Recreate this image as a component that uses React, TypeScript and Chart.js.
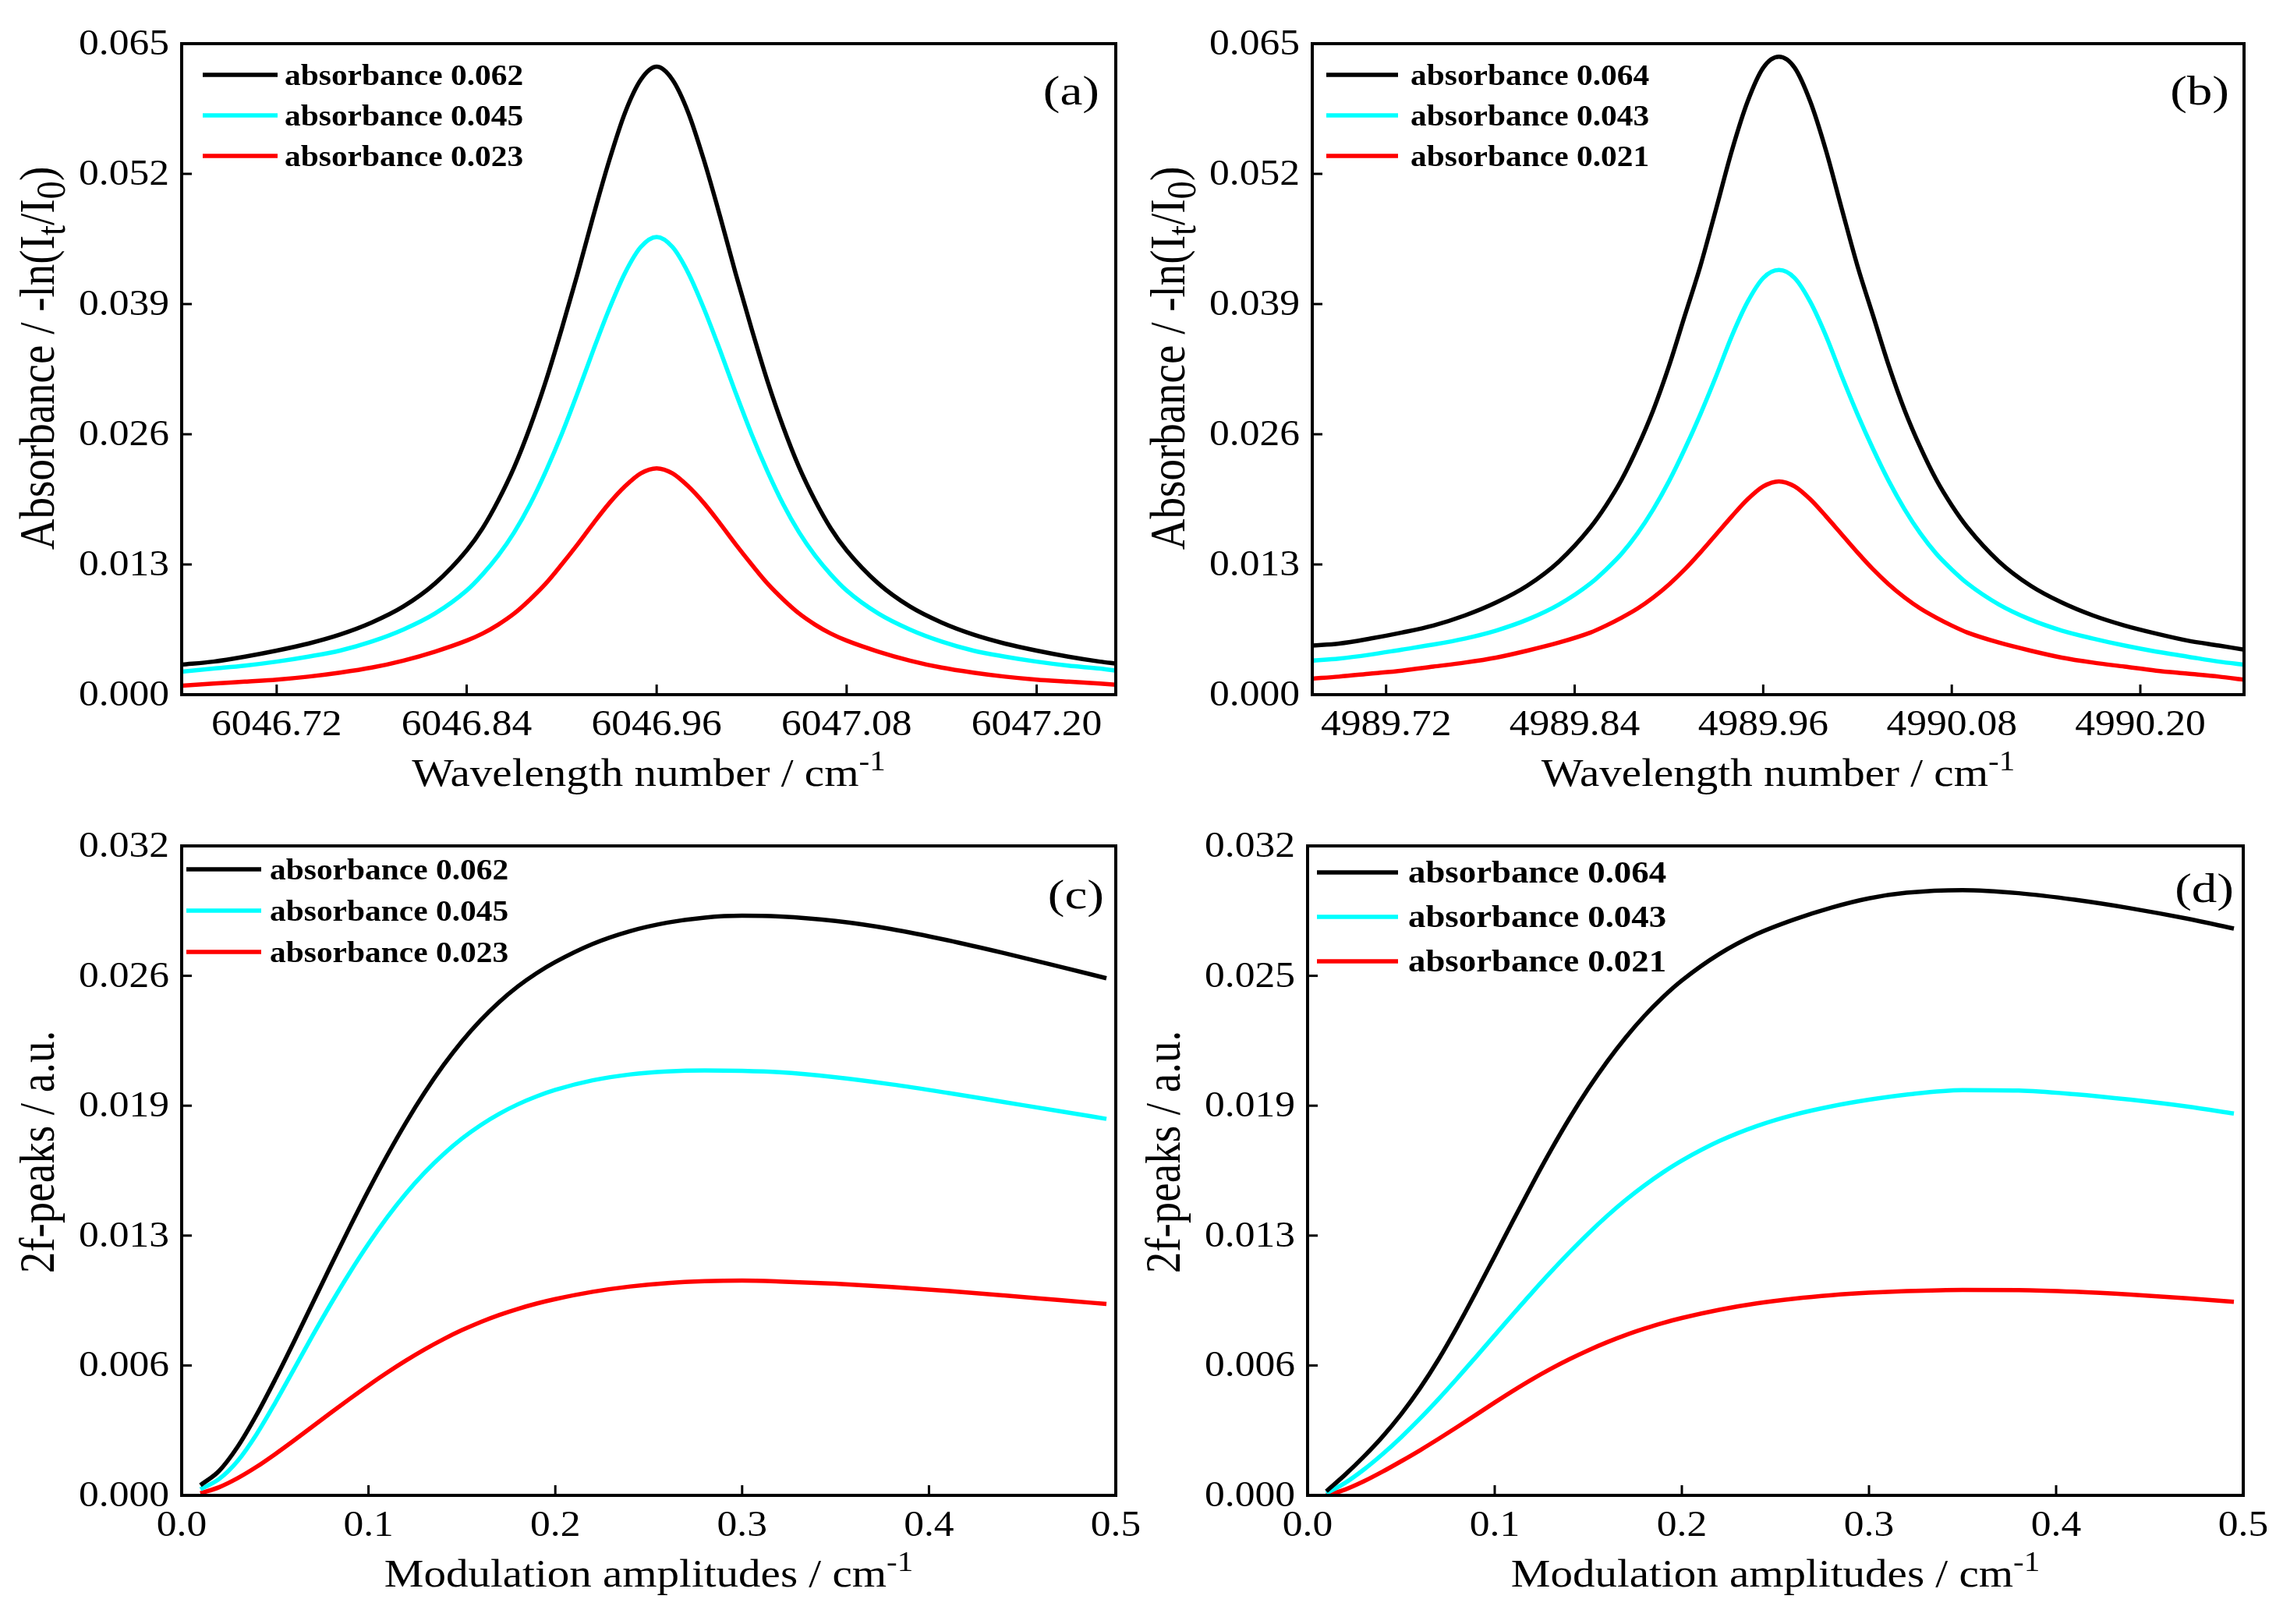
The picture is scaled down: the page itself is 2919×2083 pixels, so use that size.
import React, { useEffect, useRef } from "react";
import { Chart, registerables } from "chart.js";

Chart.register(...registerables);

const FONT = '"Liberation Serif", "Times New Roman", serif';
const COLORS = ["#000000", "#00FFFF", "#FF0000"];

// ---------- Panel (a) ----------
const A_X = [6046.66, 6046.68, 6046.70, 6046.72, 6046.74, 6046.76, 6046.78, 6046.80, 6046.82, 6046.84, 6046.85, 6046.86, 6046.87, 6046.88, 6046.89, 6046.90, 6046.91, 6046.92, 6046.93, 6046.94, 6046.95, 6046.96,
  6046.97, 6046.98, 6046.99, 6047.00, 6047.01, 6047.02, 6047.03, 6047.04, 6047.05, 6047.06, 6047.07, 6047.08, 6047.10, 6047.12, 6047.14, 6047.16, 6047.18, 6047.20, 6047.22, 6047.24, 6047.25];
const A_BLACK = [0.0030, 0.0033, 0.0038, 0.0044, 0.0051, 0.0060, 0.0072, 0.0088, 0.0111, 0.0144, 0.0166, 0.0194, 0.0227, 0.0267, 0.0313, 0.0365, 0.0420, 0.0478, 0.0533, 0.0581, 0.0614, 0.0627,
  0.0614, 0.0581, 0.0533, 0.0478, 0.0420, 0.0365, 0.0313, 0.0267, 0.0227, 0.0194, 0.0166, 0.0144, 0.0111, 0.0088, 0.0072, 0.0060, 0.0051, 0.0044, 0.0038, 0.0033, 0.0031];
const A_CYAN = [0.0023, 0.0026, 0.0029, 0.0033, 0.0038, 0.0044, 0.0053, 0.0065, 0.0081, 0.0104, 0.0120, 0.0139, 0.0162, 0.0190, 0.0223, 0.0260, 0.0301, 0.0344, 0.0385, 0.0421, 0.0447, 0.0457,
  0.0447, 0.0421, 0.0385, 0.0344, 0.0301, 0.0260, 0.0223, 0.0190, 0.0162, 0.0139, 0.0120, 0.0104, 0.0081, 0.0065, 0.0053, 0.0044, 0.0038, 0.0033, 0.0029, 0.0026, 0.0024];
const A_RED = [0.0009, 0.0011, 0.0013, 0.0015, 0.0018, 0.0022, 0.0027, 0.0034, 0.0043, 0.0054, 0.0061, 0.0070, 0.0081, 0.0095, 0.0111, 0.0130, 0.0150, 0.0171, 0.0191, 0.0208, 0.0221, 0.0226,
  0.0221, 0.0208, 0.0191, 0.0171, 0.0150, 0.0130, 0.0111, 0.0095, 0.0081, 0.0070, 0.0061, 0.0054, 0.0043, 0.0034, 0.0027, 0.0022, 0.0018, 0.0015, 0.0013, 0.0011, 0.0010];
const A_LEGEND = ["absorbance 0.062", "absorbance 0.045", "absorbance 0.023"];
const A_X_TICKS = [6046.72, 6046.84, 6046.96, 6047.08, 6047.2];
const A_X_LABELS = ["6046.72", "6046.84", "6046.96", "6047.08", "6047.20"];

// ---------- Panel (b) ----------
const B_X = [4989.673, 4989.69, 4989.71, 4989.73, 4989.75, 4989.77, 4989.79, 4989.81, 4989.83, 4989.85, 4989.86, 4989.87, 4989.88, 4989.89, 4989.90, 4989.91, 4989.92, 4989.93, 4989.94, 4989.95, 4989.96, 4989.97,
  4989.98, 4989.99, 4990.00, 4990.01, 4990.02, 4990.03, 4990.04, 4990.05, 4990.06, 4990.07, 4990.08, 4990.09, 4990.11, 4990.13, 4990.15, 4990.17, 4990.19, 4990.21, 4990.23, 4990.25, 4990.266];
const B_BLACK = [0.0049, 0.0051, 0.0056, 0.0062, 0.0069, 0.0079, 0.0092, 0.0109, 0.0133, 0.0167, 0.0189, 0.0215, 0.0247, 0.0284, 0.0328, 0.0378, 0.0428, 0.0485, 0.0543, 0.0592, 0.0626, 0.0637,
  0.0626, 0.0592, 0.0543, 0.0485, 0.0428, 0.0378, 0.0328, 0.0284, 0.0247, 0.0215, 0.0189, 0.0167, 0.0133, 0.0109, 0.0092, 0.0079, 0.0069, 0.0061, 0.0054, 0.0049, 0.0045];
const B_CYAN = [0.0034, 0.0036, 0.0040, 0.0045, 0.0050, 0.0056, 0.0064, 0.0075, 0.0090, 0.0111, 0.0125, 0.0141, 0.0161, 0.0185, 0.0213, 0.0245, 0.0280, 0.0318, 0.0358, 0.0392, 0.0416, 0.0424,
  0.0416, 0.0392, 0.0358, 0.0318, 0.0280, 0.0245, 0.0213, 0.0185, 0.0161, 0.0141, 0.0125, 0.0111, 0.0090, 0.0075, 0.0064, 0.0056, 0.0049, 0.0043, 0.0038, 0.0033, 0.0030];
const B_RED = [0.0016, 0.0018, 0.0021, 0.0024, 0.0028, 0.0032, 0.0037, 0.0044, 0.0052, 0.0062, 0.0069, 0.0077, 0.0086, 0.0097, 0.0110, 0.0125, 0.0142, 0.0160, 0.0178, 0.0195, 0.0208, 0.0213,
  0.0208, 0.0195, 0.0178, 0.0160, 0.0142, 0.0125, 0.0110, 0.0097, 0.0086, 0.0077, 0.0069, 0.0062, 0.0052, 0.0044, 0.0037, 0.0032, 0.0028, 0.0024, 0.0021, 0.0018, 0.0015];
const B_LEGEND = ["absorbance 0.064", "absorbance 0.043", "absorbance 0.021"];
const B_X_TICKS = [4989.72, 4989.84, 4989.96, 4990.08, 4990.2];
const B_X_LABELS = ["4989.72", "4989.84", "4989.96", "4990.08", "4990.20"];

const AB_Y_TICKS = [0, 0.013, 0.026, 0.039, 0.052, 0.065];
const AB_Y_LABELS = ["0.000", "0.013", "0.026", "0.039", "0.052", "0.065"];

// ---------- Panels (c) and (d) ----------
const CD_X = [0.01, 0.02, 0.03, 0.04, 0.05, 0.06, 0.07, 0.08, 0.09, 0.10, 0.11, 0.12, 0.13, 0.14, 0.15, 0.16, 0.17, 0.18, 0.19, 0.20,
  0.22, 0.24, 0.26, 0.28, 0.30, 0.32, 0.35, 0.38, 0.41, 0.44, 0.47, 0.495];
const C_BLACK = [0.00050, 0.00120, 0.00240, 0.00395, 0.00570, 0.00755, 0.00945, 0.01135, 0.01322, 0.01503, 0.01675, 0.01836, 0.01984, 0.02118, 0.02237, 0.02341, 0.02431, 0.02508, 0.02573, 0.02628,
  0.02717, 0.02780, 0.02822, 0.02847, 0.02856, 0.02852, 0.02830, 0.02790, 0.02735, 0.02672, 0.02605, 0.02548];
const C_CYAN = [0.00030, 0.00080, 0.00170, 0.00300, 0.00455, 0.00620, 0.00786, 0.00946, 0.01098, 0.01240, 0.01370, 0.01487, 0.01590, 0.01680, 0.01758, 0.01824, 0.01880, 0.01927, 0.01966, 0.01998,
  0.02045, 0.02074, 0.02089, 0.02094, 0.02092, 0.02085, 0.02060, 0.02025, 0.01983, 0.01938, 0.01893, 0.01855];
const C_RED = [0.00010, 0.00040, 0.00085, 0.00140, 0.00203, 0.00270, 0.00339, 0.00408, 0.00476, 0.00542, 0.00605, 0.00664, 0.00719, 0.00769, 0.00814, 0.00854, 0.00889, 0.00919, 0.00945, 0.00967,
  0.01003, 0.01029, 0.01046, 0.01055, 0.01058, 0.01054, 0.01043, 0.01027, 0.01007, 0.00985, 0.00962, 0.00943];
const D_BLACK = [0.00020, 0.00100, 0.00188, 0.00285, 0.00395, 0.00520, 0.00662, 0.00820, 0.00989, 0.01164, 0.01340, 0.01513, 0.01679, 0.01835, 0.01979, 0.02110, 0.02228, 0.02333, 0.02425, 0.02505,
  0.02634, 0.02731, 0.02802, 0.02860, 0.02905, 0.02932, 0.02945, 0.02930, 0.02898, 0.02856, 0.02806, 0.02758];
const D_CYAN = [0.00010, 0.00060, 0.00125, 0.00200, 0.00283, 0.00373, 0.00469, 0.00570, 0.00674, 0.00779, 0.00884, 0.00987, 0.01087, 0.01183, 0.01274, 0.01359, 0.01437, 0.01508, 0.01572, 0.01629,
  0.01724, 0.01797, 0.01852, 0.01893, 0.01925, 0.01950, 0.01972, 0.01970, 0.01952, 0.01925, 0.01892, 0.01858];
const D_RED = [0.00000, 0.00028, 0.00068, 0.00115, 0.00166, 0.00219, 0.00275, 0.00333, 0.00392, 0.00452, 0.00510, 0.00565, 0.00616, 0.00663, 0.00706, 0.00745, 0.00780, 0.00811, 0.00839, 0.00863,
  0.00903, 0.00934, 0.00957, 0.00974, 0.00986, 0.00994, 0.01000, 0.00999, 0.00991, 0.00977, 0.00959, 0.00942];
const CD_X_TICKS = [0, 0.1, 0.2, 0.3, 0.4, 0.5];
const CD_X_LABELS = ["0.0", "0.1", "0.2", "0.3", "0.4", "0.5"];
const C_Y_TICKS = [0, 0.0064, 0.0128, 0.0192, 0.0256, 0.032];
const C_Y_LABELS = ["0.000", "0.006", "0.013", "0.019", "0.026", "0.032"];
const D_Y_TICKS = [0, 0.00632, 0.01264, 0.01896, 0.02528, 0.0316];
const D_Y_LABELS = ["0.000", "0.006", "0.013", "0.019", "0.025", "0.032"];

type Seg = [string, number];
const TITLE_WAVE: Seg[] = [["Wavelength number / cm", 0], ["-1", 1]];
const TITLE_ABS: Seg[] = [["Absorbance / -ln(I", 0], ["t", -1], ["/I", 0], ["0", -1], [")", 0]];
const TITLE_MOD: Seg[] = [["Modulation amplitudes / cm", 0], ["-1", 1]];
const TITLE_2F: Seg[] = [["2f-peaks / a.u.", 0]];

const PAD_L = 233;
const PAD_T = 56;
const PAD_R = 30;

const PANELS = [
  {
    key: "a", L: 233, R: 1431, T: 56, B: 891, padB: 150,
    xMin: 6046.66, xMax: 6047.25, xTicks: A_X_TICKS, xLabels: A_X_LABELS,
    yMax: 0.065, yTicks: AB_Y_TICKS, yLabels: AB_Y_LABELS,
    xs: A_X, series: [A_BLACK, A_CYAN, A_RED], names: A_LEGEND,
    xTitle: TITLE_WAVE, yTitle: TITLE_ABS, yTitleShift: -14,
    legend: { x0: 27, x1: 123, tx: 132, top: 40, gap: 52, size: 37, sx: 1.12 },
    letter: { text: "(a)", dx: 21, dy: 64 },
  },
  {
    key: "b", L: 1683, R: 2878, T: 56, B: 891, padB: 150,
    xMin: 4989.673, xMax: 4990.266, xTicks: B_X_TICKS, xLabels: B_X_LABELS,
    yMax: 0.065, yTicks: AB_Y_TICKS, yLabels: AB_Y_LABELS,
    xs: B_X, series: [B_BLACK, B_CYAN, B_RED], names: B_LEGEND,
    xTitle: TITLE_WAVE, yTitle: TITLE_ABS, yTitleShift: -14,
    legend: { x0: 18, x1: 110, tx: 126, top: 40, gap: 52, size: 37, sx: 1.12 },
    letter: { text: "(b)", dx: 19, dy: 64 },
  },
  {
    key: "c", L: 233, R: 1431, T: 1085, B: 1918, padB: 160,
    xMin: 0, xMax: 0.5, xTicks: CD_X_TICKS, xLabels: CD_X_LABELS,
    yMax: 0.032, yTicks: C_Y_TICKS, yLabels: C_Y_LABELS,
    xs: CD_X, series: [C_BLACK, C_CYAN, C_RED], names: A_LEGEND,
    xTitle: TITLE_MOD, yTitle: TITLE_2F, yTitleShift: -24,
    legend: { x0: 6, x1: 102, tx: 113, top: 30, gap: 53, size: 37, sx: 1.12 },
    letter: { text: "(c)", dx: 15, dy: 66 },
  },
  {
    key: "d", L: 1677, R: 2877, T: 1085, B: 1918, padB: 160,
    xMin: 0, xMax: 0.5, xTicks: CD_X_TICKS, xLabels: CD_X_LABELS,
    yMax: 0.0316, yTicks: D_Y_TICKS, yLabels: D_Y_LABELS,
    xs: CD_X, series: [D_BLACK, D_CYAN, D_RED], names: B_LEGEND,
    xTitle: TITLE_MOD, yTitle: TITLE_2F, yTitleShift: -24,
    legend: { x0: 12, x1: 116, tx: 129, top: 34, gap: 57, size: 40, sx: 1.12 },
    letter: { text: "(d)", dx: 12, dy: 58 },
  },
];

function drawScaled(ctx: any, text: string, x: number, y: number, font: string, sx: number, align: string, baseline: string) {
  ctx.save();
  ctx.translate(x, y);
  ctx.scale(sx, 1);
  ctx.font = font;
  ctx.textAlign = align;
  ctx.textBaseline = baseline;
  ctx.fillText(text, 0, 0);
  ctx.restore();
}

function drawRich(ctx: any, segs: Seg[], x: number, y: number, size: number, sx: number, rotate: boolean, subScale: number) {
  ctx.save();
  ctx.translate(x, y);
  ctx.scale(sx, 1);
  if (rotate) ctx.rotate(-Math.PI / 2);
  ctx.textAlign = "left";
  ctx.textBaseline = "alphabetic";
  const widths = segs.map(([t, k]) => {
    ctx.font = `${k ? size * subScale : size}px ${FONT}`;
    return ctx.measureText(t).width;
  });
  const total = widths.reduce((a, b) => a + b, 0);
  let cx = -total / 2;
  segs.forEach(([t, k], i) => {
    ctx.font = `${k ? size * subScale : size}px ${FONT}`;
    const dy = k === 1 ? -size * 0.4 : k === -1 ? size * 0.22 : 0;
    ctx.fillText(t, cx, dy);
    cx += widths[i];
  });
  ctx.restore();
}

function makeDecor(p: any) {
  return {
    id: "decor_" + p.key,
    afterDraw(chart: any) {
      const { ctx, chartArea: ca } = chart;
      const xs = chart.scales.x;
      const ys = chart.scales.y;
      ctx.save();
      ctx.fillStyle = "#000";
      ctx.strokeStyle = "#000";
      // inward tick marks
      ctx.lineWidth = 3;
      p.xTicks.forEach((v: number) => {
        const px = xs.getPixelForValue(v);
        ctx.beginPath();
        ctx.moveTo(px, ca.bottom);
        ctx.lineTo(px, ca.bottom - 13);
        ctx.stroke();
      });
      p.yTicks.forEach((v: number) => {
        const py = ys.getPixelForValue(v);
        ctx.beginPath();
        ctx.moveTo(ca.left, py);
        ctx.lineTo(ca.left + 13, py);
        ctx.stroke();
      });
      // frame
      ctx.lineWidth = 4;
      ctx.strokeRect(ca.left, ca.top, ca.right - ca.left, ca.bottom - ca.top);
      // tick labels
      const tickFont = `46px ${FONT}`;
      p.xTicks.forEach((v: number, i: number) => {
        drawScaled(ctx, p.xLabels[i], xs.getPixelForValue(v), ca.bottom + 40, tickFont, 1.12, "center", "middle");
      });
      p.yTicks.forEach((v: number, i: number) => {
        drawScaled(ctx, p.yLabels[i], ca.left - 16, ys.getPixelForValue(v) + 2, tickFont, 1.12, "right", "middle");
      });
      // axis titles
      drawRich(ctx, p.xTitle, (ca.left + ca.right) / 2, ca.bottom + 117, 50, 1.14, false, 0.72);
      drawRich(ctx, p.yTitle, ca.left - 164, (ca.top + ca.bottom) / 2 + p.yTitleShift, 55, 1.15, true, 0.85);
      // legend
      const lg = p.legend;
      chart.data.datasets.forEach((ds: any, i: number) => {
        const yRow = ca.top + lg.top + i * lg.gap;
        ctx.strokeStyle = ds.borderColor;
        ctx.lineWidth = 5.5;
        ctx.beginPath();
        ctx.moveTo(ca.left + lg.x0, yRow);
        ctx.lineTo(ca.left + lg.x1, yRow);
        ctx.stroke();
        ctx.fillStyle = "#000";
        drawScaled(ctx, ds.label, ca.left + lg.tx, yRow + 3, `bold ${lg.size}px ${FONT}`, lg.sx, "left", "middle");
      });
      // panel letter
      drawScaled(ctx, p.letter.text, ca.right - p.letter.dx, ca.top + p.letter.dy, `52px ${FONT}`, 1.25, "right", "middle");
      ctx.restore();
    },
  };
}

function PanelChart({ p }: { p: any }) {
  const ref = useRef<HTMLCanvasElement | null>(null);
  const width = p.R - p.L + PAD_L + PAD_R;
  const height = p.B - p.T + PAD_T + p.padB;
  useEffect(() => {
    if (!ref.current) return;
    const chart = new Chart(ref.current, {
      type: "line",
      data: {
        datasets: p.series.map((s: number[], i: number) => ({
          label: p.names[i],
          data: p.xs.map((x: number, j: number) => ({ x, y: s[j] })),
          borderColor: COLORS[i],
          backgroundColor: COLORS[i],
          borderWidth: 5.5,
          pointRadius: 0,
          fill: false,
          cubicInterpolationMode: "monotone",
        })),
      },
      options: {
        animation: false,
        responsive: false,
        maintainAspectRatio: false,
        events: [],
        layout: { padding: { top: PAD_T, right: PAD_R, left: 0, bottom: 0 } },
        plugins: { legend: { display: false }, tooltip: { enabled: false }, title: { display: false } },
        scales: {
          x: {
            type: "linear",
            min: p.xMin,
            max: p.xMax,
            grid: { display: false },
            border: { display: false },
            ticks: { display: false },
            afterBuildTicks: (s: any) => {
              s.ticks = p.xTicks.map((v: number) => ({ value: v }));
            },
            afterFit: (s: any) => {
              s.height = p.padB;
            },
          },
          y: {
            type: "linear",
            min: 0,
            max: p.yMax,
            grid: { display: false },
            border: { display: false },
            ticks: { display: false },
            afterBuildTicks: (s: any) => {
              s.ticks = p.yTicks.map((v: number) => ({ value: v }));
            },
            afterFit: (s: any) => {
              s.width = PAD_L;
            },
          },
        },
      } as any,
      plugins: [makeDecor(p)],
    } as any);
    return () => chart.destroy();
  }, []);
  return (
    <canvas
      ref={ref}
      width={width}
      height={height}
      style={{ position: "absolute", left: p.L - PAD_L, top: p.T - PAD_T, width, height }}
    />
  );
}

export default function App() {
  return (
    <div style={{ position: "absolute", left: 0, top: 0, width: 2919, height: 2083, background: "#fff", overflow: "hidden" }}>
      {PANELS.map((p) => (
        <PanelChart key={p.key} p={p} />
      ))}
    </div>
  );
}
